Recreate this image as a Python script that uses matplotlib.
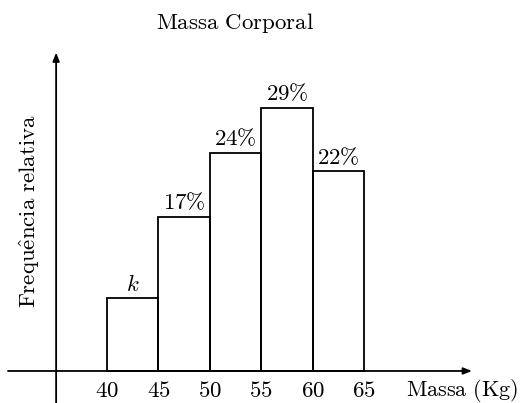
import matplotlib
matplotlib.use("Agg")
import matplotlib.pyplot as plt

plt.rcParams['mathtext.fontset'] = 'cm'

bin_starts = [40, 45, 50, 55, 60]
bin_width = 5
freqs = [8, 17, 24, 29, 22]
bar_labels = [r'$k$', r'$17\%$', r'$24\%$', r'$29\%$', r'$22\%$']
tick_values = [40, 45, 50, 55, 60, 65]

fig = plt.figure(figsize=(5.31, 4.03), dpi=100)
ax = fig.add_axes([0, 0, 1, 1])
ax.set_xlim(29.59, 81.25)
ax.set_ylim(-3.53, 40.9)
ax.axis('off')

fs = 16.5
lw = 1.3
ax.bar(bin_starts, freqs, width=bin_width, align='edge', fill=False,
       edgecolor='black', linewidth=lw, zorder=2)

for x0, h, lab in zip(bin_starts, freqs, bar_labels):
    ax.text(x0 + bin_width / 2, h + 0.3, lab, ha='center', va='bottom', fontsize=fs)

# axes with arrows
ax.annotate('', xy=(75.5, 0), xytext=(30.37, 0),
            arrowprops=dict(arrowstyle='-|>,head_length=0.5,head_width=0.2', lw=lw, color='black',
                            shrinkA=0, shrinkB=0))
ax.annotate('', xy=(35.05, 35.1), xytext=(35.05, -3.6),
            arrowprops=dict(arrowstyle='-|>,head_length=0.5,head_width=0.2', lw=lw, color='black',
                            shrinkA=0, shrinkB=0))

for t in tick_values:
    ax.text(t, -0.85, r'$%d$' % t, ha='center', va='top', fontsize=fs)

ax.text(74.5, -0.7, r'$\mathrm{Massa\ (Kg)}$', ha='center', va='top', fontsize=16)
ax.text(52.5, 38.4, r'$\mathrm{Massa\ Corporal}$', ha='center', va='center', fontsize=fs)
ax.text(32.5, 17.6, r'$\mathrm{Frequ\hat{e}ncia\ relativa}$', ha='center', va='center',
        rotation=90, fontsize=fs)

fig.savefig('out.png', dpi=100)
